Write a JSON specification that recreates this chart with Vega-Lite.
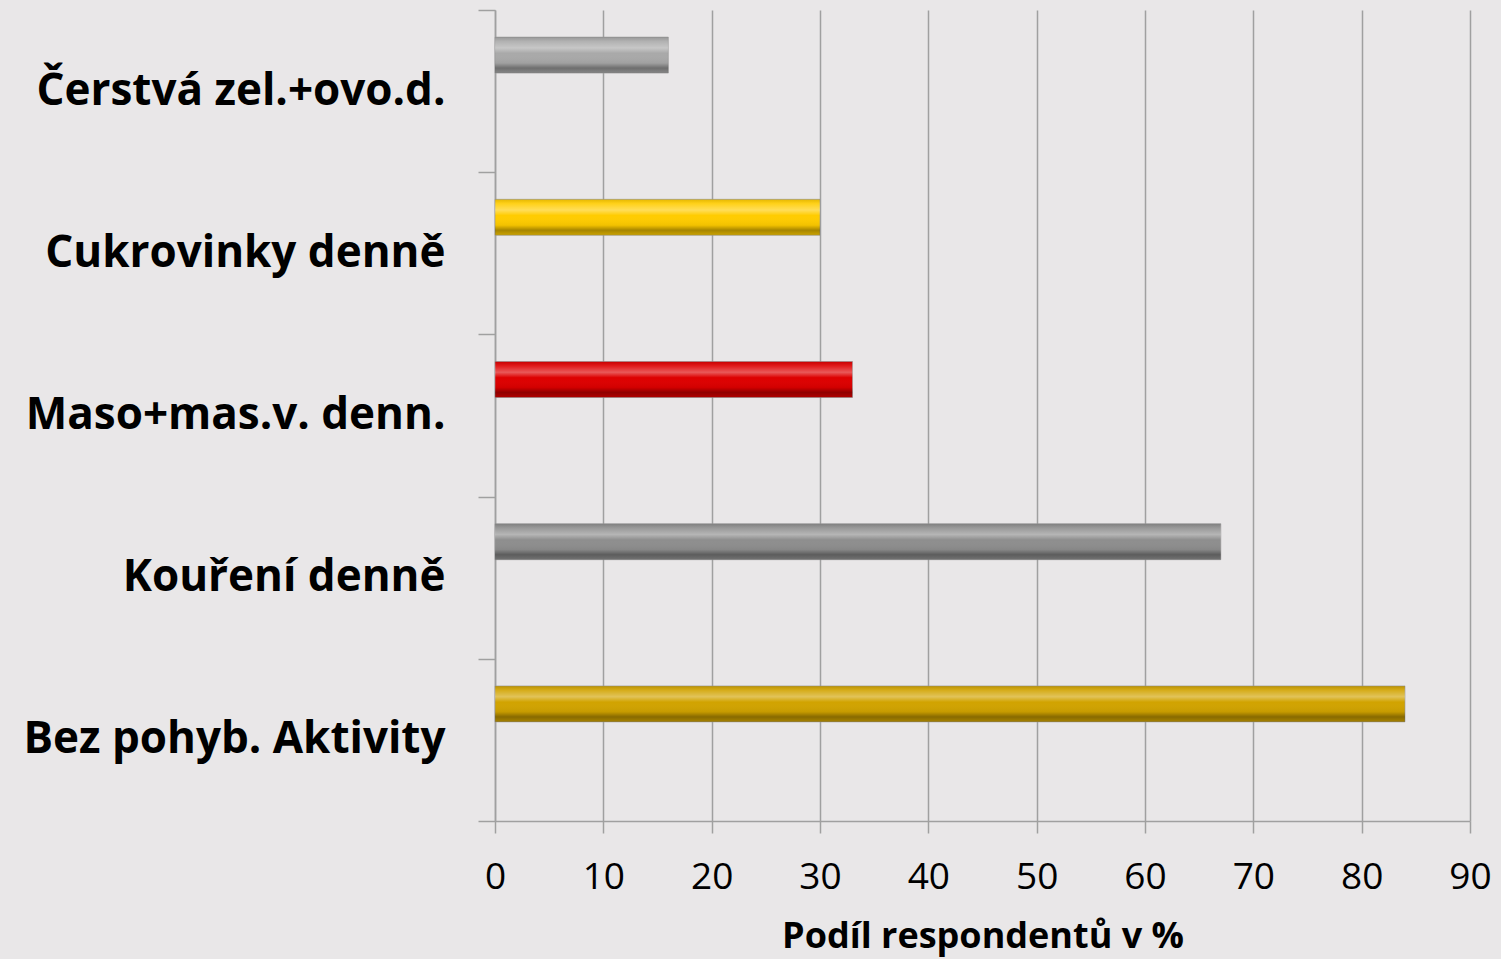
{
  "$schema": "https://vega.github.io/schema/vega-lite/v6.json",
  "width": 975,
  "height": 811,
  "autosize": {"type": "none"},
  "padding": {"left": 495, "top": 10, "right": 31, "bottom": 138},
  "background": "#E9E7E8",
  "config": {
    "view": {"stroke": null},
    "font": "Open Sans"
  },
  "data": {
    "values": [
      {"kategorie": "Čerstvá zel.+ovo.d.", "podil": 16},
      {"kategorie": "Cukrovinky denně", "podil": 30},
      {"kategorie": "Maso+mas.v. denn.", "podil": 33},
      {"kategorie": "Kouření denně", "podil": 67},
      {"kategorie": "Bez pohyb. Aktivity", "podil": 84}
    ]
  },
  "encoding": {
    "y": {
      "field": "kategorie",
      "type": "nominal",
      "sort": null,
      "scale": {"paddingInner": 0, "paddingOuter": 0},
      "axis": {
        "title": null,
        "tickBand": "extent",
        "tickSize": 17,
        "tickColor": "#A0A0A0",
        "tickWidth": 1.5,
        "domainColor": "#A0A0A0",
        "domainWidth": 1.5,
        "labelFont": "Open Sans",
        "labelFontWeight": "bold",
        "labelFontSize": 44,
        "labelColor": "#000000",
        "labelPadding": 33,
        "labelLimit": 600
      }
    },
    "x": {
      "field": "podil",
      "type": "quantitative",
      "scale": {"domain": [0, 90], "nice": false},
      "axis": {
        "values": [0, 10, 20, 30, 40, 50, 60, 70, 80, 90],
        "title": "Podíl respondentů v %",
        "titleFont": "Open Sans",
        "titleFontWeight": "bold",
        "titleFontSize": 36,
        "titleColor": "#000000",
        "titlePadding": 24,
        "grid": true,
        "gridColor": "#A0A0A0",
        "gridWidth": 1.5,
        "tickSize": 12,
        "tickColor": "#A0A0A0",
        "tickWidth": 1.5,
        "domainColor": "#A0A0A0",
        "domainWidth": 1.5,
        "labelFont": "Open Sans",
        "labelFontSize": 37,
        "labelColor": "#000000",
        "labelPadding": 26,
        "labelFlush": false
      }
    }
  },
  "layer": [
    {
      "mark": {"type": "bar", "height": 36, "yOffset": -36, "stroke": "#9A9A9A", "strokeWidth": 1, "strokeOpacity": 0.6},
      "encoding": {
        "color": {
          "field": "kategorie",
          "type": "nominal",
          "legend": null,
          "scale": {
            "domain": ["Čerstvá zel.+ovo.d.", "Cukrovinky denně", "Maso+mas.v. denn.", "Kouření denně", "Bez pohyb. Aktivity"],
            "range": ["#A9A9A9", "#FFCC00", "#DD0000", "#8E8E8E", "#D1A300"]
          }
        }
      }
    },
    {
      "mark": {
        "type": "bar",
        "height": 36,
        "yOffset": -36,
        "color": {
          "gradient": "linear",
          "x1": 0, "y1": 0, "x2": 0, "y2": 1,
          "stops": [
            {"offset": 0, "color": "rgba(0,0,0,0.1)"},
            {"offset": 0.12, "color": "rgba(255,255,255,0.1)"},
            {"offset": 0.3, "color": "rgba(255,255,255,0.35)"},
            {"offset": 0.45, "color": "rgba(255,255,255,0.0)"},
            {"offset": 0.72, "color": "rgba(0,0,0,0.05)"},
            {"offset": 0.86, "color": "rgba(0,0,0,0.35)"},
            {"offset": 1, "color": "rgba(0,0,0,0.2)"}
          ]
        }
      }
    }
  ]
}
